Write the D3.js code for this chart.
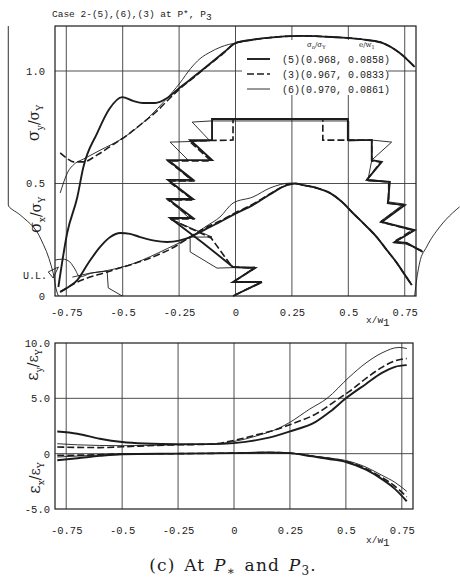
<!DOCTYPE html>
<html lang="en">
<head>
<meta charset="UTF-8">
<title>Case 2 stress and strain distributions at P* and P3</title>
<script src="https://d3js.org/d3.v7.min.js"></script>
<style>
  body { margin: 0; background: #fff; }
  svg { display: block; }
  .mono { font-family: "Liberation Mono", "DejaVu Sans Mono", monospace; fill: #1c1c1c; }
  .sym { font-family: "DejaVu Serif", "Liberation Serif", serif; fill: #1c1c1c; }
</style>
</head>
<body>
<script>
// ---- data (x/w1 along the section) ----
const xTicks = [-0.75, -0.5, -0.25, 0, 0.25, 0.5, 0.75];
const xTickLabels = ["-0.75", "-0.5", "-0.25", "0", "0.25", "0.5", "0.75"];
const sigmaTicks = [0, 0.5, 1.0];
const sigmaTickLabels = ["0", "0.5", "1.0"];
const ulLevel = 0.09;
const epsTicks = [-5, 0, 5, 10];
const epsTickLabels = ["-5.0", "0", "5.0", "10.0"];

const cases = ["5", "3", "6"];
const caseLabels = ["(5)(0.968, 0.0858)", "(3)(0.967, 0.0833)", "(6)(0.970, 0.0861)"];

// sigma_y / sigma_Y
const sigmaYRight = [[0.07,1.138],[0.139,1.147],[0.285,1.156],[0.431,1.151],[0.582,1.138],[0.653,1.124],[0.728,1.08],[0.794,1.018]];
const sigmaY5 = [[-0.785,0.04],[-0.746,0.28],[-0.701,0.44],[-0.675,0.57],[-0.613,0.724],[-0.56,0.83],[-0.502,0.884],[-0.454,0.867],[-0.41,0.858],[-0.356,0.858],[-0.303,0.88],[-0.246,0.927],[-0.2,0.962],[-0.157,0.997],[-0.1,1.043],[-0.05,1.084],[0,1.124]];
const sigmaY3 = [[-0.777,0.636],[-0.745,0.61],[-0.719,0.596],[-0.675,0.596],[-0.613,0.627],[-0.546,0.671],[-0.48,0.715],[-0.423,0.76],[-0.35,0.82],[-0.3,0.87],[-0.246,0.922],[-0.19,0.967],[-0.126,1.02],[-0.06,1.073],[0,1.124]];
const sigmaY6 = [[-0.777,0.458],[-0.745,0.547],[-0.71,0.59],[-0.675,0.608],[-0.6,0.648],[-0.502,0.7],[-0.44,0.745],[-0.378,0.8],[-0.31,0.872],[-0.246,0.947],[-0.2,1.01],[-0.157,1.055],[-0.11,1.085],[-0.069,1.105],[-0.03,1.118],[0,1.124]];

// sigma_x / sigma_Y
const sigmaXRight = [[0.299,0.493],[0.36,0.48],[0.418,0.458],[0.47,0.42],[0.52,0.369],[0.575,0.315],[0.626,0.262],[0.67,0.205],[0.715,0.147],[0.75,0.095],[0.781,0.049]];
const sigmaX5 = [[-0.777,0.018],[-0.74,0.04],[-0.701,0.071],[-0.65,0.15],[-0.6,0.218],[-0.555,0.262],[-0.511,0.28],[-0.467,0.276],[-0.423,0.262],[-0.36,0.246],[-0.303,0.24],[-0.25,0.246],[-0.201,0.262],[-0.13,0.298],[-0.069,0.329],[0,0.366],[0.077,0.404],[0.15,0.45],[0.228,0.493],[0.265,0.5]];
const sigmaX3 = [[-0.777,0.018],[-0.701,0.062],[-0.569,0.107],[-0.378,0.169],[-0.28,0.213],[-0.201,0.262],[-0.13,0.305],[-0.069,0.333],[0,0.37],[0.077,0.408],[0.15,0.452],[0.228,0.494],[0.265,0.5]];
const sigmaX6 = [[-0.799,0.16],[-0.765,0.164],[-0.734,0.151],[-0.712,0.12],[-0.69,0.085],[-0.644,0.1],[-0.569,0.113],[-0.45,0.145],[-0.378,0.175],[-0.3,0.212],[-0.201,0.262],[-0.13,0.31],[-0.069,0.351],[-0.011,0.413],[0.077,0.44],[0.153,0.48],[0.246,0.502]];

// plastic zone boundaries (zigzag)
const zone5 = [[0.830,0.196],[0.759,0.236],[0.706,0.240],[0.794,0.293],[0.648,0.329],[0.750,0.404],[0.675,0.413],[0.684,0.507],[0.582,0.516],[0.648,0.596],[0.604,0.604],[0.604,0.693],[0.498,0.693],[0.498,0.787],[-0.104,0.787],[-0.104,0.693],[-0.201,0.693],[-0.104,0.604],[-0.299,0.604],[-0.188,0.516],[-0.299,0.516],[-0.188,0.431],[-0.299,0.431],[-0.188,0.347],[-0.290,0.347],[-0.144,0.236],[-0.011,0.129],[0.086,0.124],[-0.011,0.062],[0.117,0.062],[-0.011,0]];
const zone3 = [[0.816,0.204],[0.754,0.236],[0.701,0.240],[0.785,0.293],[0.644,0.329],[0.746,0.404],[0.679,0.413],[0.679,0.507],[0.582,0.516],[0.644,0.596],[0.604,0.600],[0.604,0.693],[0.387,0.693],[0.387,0.787],[-0.011,0.787],[-0.011,0.693],[-0.206,0.689],[-0.108,0.600],[-0.299,0.600],[-0.188,0.511],[-0.299,0.511],[-0.188,0.427],[-0.299,0.427],[-0.188,0.342],[-0.290,0.342],[-0.108,0.258],[-0.015,0.129],[0.086,0.124],[-0.011,0.062],[0.117,0.062],[-0.011,0]];
const zone6 = [[0.825,0.204],[0.754,0.231],[0.701,0.236],[0.790,0.289],[0.644,0.333],[0.746,0.409],[0.679,0.418],[0.679,0.507],[0.586,0.511],[0.604,0.604],[0.692,0.684],[0.604,0.693],[0.502,0.689],[0.502,0.778],[-0.108,0.778],[-0.192,0.773],[-0.113,0.689],[-0.290,0.684],[-0.210,0.604],[-0.294,0.600],[-0.192,0.511],[-0.294,0.511],[-0.192,0.427],[-0.294,0.427],[-0.206,0.347],[-0.290,0.342],[-0.104,0.262],[-0.201,0.262],[-0.201,0.196],[-0.082,0.124],[0.086,0.129],[-0.011,0.062],[0.117,0.062],[-0.011,0]];
const meshLine = [[-0.723,0.084],[-0.644,0.102],[-0.569,0.111],[-0.564,0.036],[-0.502,0]];
const ulMark = [[-0.83,0.107],[-0.785,0.129],[-0.808,0.08],[-0.83,0.107]];

// hole outlines either side
const leftOutline = [[-1.007,1.2],[-1.007,0.405],[-0.954,0.36],[-0.896,0.307],[-0.852,0.23],[-0.808,0.102],[-0.79,0.013],[-0.785,0]];
const rightOutline = [[0.794,0],[0.797,0.027],[0.816,0.147],[0.847,0.218],[0.905,0.307],[0.962,0.369],[0.993,0.396]];

// strains
const epsY5 = [[-0.79,2.0],[-0.7,1.8],[-0.6,1.35],[-0.5,1.05],[-0.4,0.92],[-0.25,0.86],[-0.1,0.86],[0,0.95],[0.145,1.4],[0.247,2.0],[0.367,2.9],[0.43,3.8],[0.5,5.0],[0.59,6.3],[0.661,7.3],[0.72,7.85],[0.772,8.0]];
const epsY3 = [[-0.79,0.6],[-0.6,0.55],[-0.5,0.62],[-0.3,0.78],[-0.1,0.86],[0,1.2],[0.1,1.7],[0.2,2.25],[0.247,2.6],[0.367,3.6],[0.47,5.0],[0.514,5.6],[0.59,6.8],[0.661,7.8],[0.72,8.4],[0.772,8.6]];
const epsY6 = [[-0.79,0.9],[-0.7,0.8],[-0.5,0.72],[-0.3,0.78],[-0.1,0.86],[0,1.1],[0.1,1.6],[0.2,2.3],[0.247,2.8],[0.336,4.0],[0.416,5.0],[0.514,6.9],[0.59,8.2],[0.661,9.1],[0.737,9.6],[0.772,9.5]];
const epsX5 = [[-0.79,-0.6],[-0.7,-0.42],[-0.6,-0.2],[-0.5,-0.05],[-0.25,0],[0,0.05],[0.15,0.1],[0.25,0.05],[0.35,-0.25],[0.43,-0.5],[0.5,-0.75],[0.59,-1.45],[0.661,-2.3],[0.72,-3.2],[0.772,-4.3]];
const epsX3 = [[-0.79,-0.15],[-0.6,-0.1],[-0.5,-0.02],[-0.25,0],[0,0.05],[0.15,0.1],[0.25,0.05],[0.35,-0.22],[0.43,-0.45],[0.5,-0.7],[0.59,-1.35],[0.661,-2.15],[0.72,-2.95],[0.772,-3.9]];
const epsX6 = [[-0.79,-0.3],[-0.7,-0.22],[-0.6,-0.12],[-0.5,-0.03],[-0.25,0],[0,0.05],[0.15,0.1],[0.25,0.05],[0.35,-0.2],[0.43,-0.4],[0.5,-0.62],[0.59,-1.22],[0.661,-1.95],[0.72,-2.6],[0.772,-3.4]];

// ---- drawing ----
const width = 460, height = 581;
const ink = "#1c1c1c";
const lineStyle = {
  "5": {w: 1.9, dash: null},
  "3": {w: 1.6, dash: "7,3"},
  "6": {w: 0.9, dash: null}
};

const svg = d3.select("body").append("svg")
  .attr("width", width)
  .attr("height", height);
svg.append("rect").attr("width", width).attr("height", height).attr("fill", "#fff");

const xT = d3.scaleLinear().domain([-0.8, 0.8]).range([55, 416]);
const yT = d3.scaleLinear().domain([0, 1.2]).range([296, 26]);
const xB = d3.scaleLinear().domain([-0.8, 0.8]).range([55, 413]);
const yB = d3.scaleLinear().domain([-5, 10]).range([509, 343]);

function grid(g, x, y, xs, ys, y0, y1, x0, x1) {
  g.selectAll(".gv").data(xs).join("line")
    .attr("x1", d => x(d)).attr("x2", d => x(d))
    .attr("y1", y(y1)).attr("y2", y(y0))
    .attr("stroke", "#3a3a3a").attr("stroke-width", 0.9);
  g.selectAll(".gh").data(ys).join("line")
    .attr("x1", x(x0)).attr("x2", x(x1))
    .attr("y1", d => y(d)).attr("y2", d => y(d))
    .attr("stroke", "#3a3a3a").attr("stroke-width", 0.9);
  g.append("rect")
    .attr("x", x(x0)).attr("y", y(y1))
    .attr("width", x(x1) - x(x0)).attr("height", y(y0) - y(y1))
    .attr("fill", "none").attr("stroke", ink).attr("stroke-width", 1.2);
}

function plot(g, pts, x, y, key, curve) {
  const s = lineStyle[key];
  g.append("path")
    .datum(pts)
    .attr("d", d3.line().x(d => x(d[0])).y(d => y(d[1])).curve(curve || d3.curveMonotoneX))
    .attr("fill", "none")
    .attr("stroke", ink)
    .attr("stroke-width", s.w)
    .attr("stroke-dasharray", s.dash)
    .attr("stroke-linejoin", "miter");
}

// top panel
const topPanel = svg.append("g");
grid(topPanel.append("g"), xT, yT, xTicks, [0.5, 1.0], 0, 1.2, -0.8, 0.8);

// legend background hides the grid underneath (curves still pass over it)
topPanel.append("rect").attr("x", 242).attr("y", 40).attr("width", 146).attr("height", 55).attr("fill", "#fff");

plot(topPanel, leftOutline, xT, yT, "6", d3.curveMonotoneY);
plot(topPanel, rightOutline, xT, yT, "6", d3.curveMonotoneX);

plot(topPanel, zone6, xT, yT, "6", d3.curveLinear);
plot(topPanel, zone5, xT, yT, "5", d3.curveLinear);
plot(topPanel, zone3, xT, yT, "3", d3.curveLinear);
plot(topPanel, meshLine, xT, yT, "6", d3.curveLinear);
plot(topPanel, ulMark, xT, yT, "6", d3.curveLinear);

plot(topPanel, sigmaY5.concat(sigmaYRight), xT, yT, "5");
plot(topPanel, sigmaY3.concat(sigmaYRight), xT, yT, "3");
plot(topPanel, sigmaY6.concat(sigmaYRight), xT, yT, "6");
plot(topPanel, sigmaX5.concat(sigmaXRight), xT, yT, "5");
plot(topPanel, sigmaX3.concat(sigmaXRight), xT, yT, "3");
plot(topPanel, sigmaX6.concat(sigmaXRight), xT, yT, "6");

// bottom panel
const botPanel = svg.append("g");
grid(botPanel.append("g"), xB, yB, xTicks, [0, 5], -5, 10, -0.8, 0.8);
plot(botPanel, epsY5, xB, yB, "5");
plot(botPanel, epsY3, xB, yB, "3");
plot(botPanel, epsY6, xB, yB, "6");
plot(botPanel, epsX5, xB, yB, "5");
plot(botPanel, epsX3, xB, yB, "3");
plot(botPanel, epsX6, xB, yB, "6");

// axes
function styleAxis(g, size) {
  g.select(".domain").remove();
  g.selectAll("text").attr("class", "mono").attr("font-size", size).attr("fill", ink);
}
svg.append("g").attr("transform", `translate(0,${yT(0)})`)
  .call(d3.axisBottom(xT).tickValues(xTicks).tickFormat((d, i) => xTickLabels[i]).tickSize(0).tickPadding(13))
  .call(g => styleAxis(g, 10.5));
svg.append("g").attr("transform", `translate(0,${yB(-5)})`)
  .call(d3.axisBottom(xB).tickValues(xTicks).tickFormat((d, i) => xTickLabels[i]).tickSize(0).tickPadding(18))
  .call(g => styleAxis(g, 10.5));
svg.append("g").attr("transform", `translate(${xT(-0.8)},0)`)
  .call(d3.axisLeft(yT).tickValues(sigmaTicks).tickFormat((d, i) => sigmaTickLabels[i]).tickSize(0).tickPadding(10))
  .call(g => styleAxis(g, 10.5));
svg.append("g").attr("transform", `translate(${xB(-0.8)},0)`)
  .call(d3.axisLeft(yB).tickValues(epsTicks).tickFormat((d, i) => epsTickLabels[i]).tickSize(0).tickPadding(5))
  .call(g => styleAxis(g, 10.5));

svg.append("text").attr("class", "mono").attr("font-size", 10)
  .attr("x", 23).attr("y", yT(ulLevel)).attr("dy", "0.35em").text("U.L.");

// x/w1 labels
[yT(0) + 27, yB(-5) + 34].forEach(yy => {
  const t = svg.append("text").attr("class", "mono").attr("font-size", 9.5)
    .attr("x", 366).attr("y", yy);
  t.append("tspan").text("x/w");
  t.append("tspan").attr("dy", 3).attr("font-size", 11).text("1");
});

// rotated ratio labels
function ratio(x, y, sym, a, b) {
  const t = svg.append("text").attr("class", "sym")
    .attr("transform", `translate(${x},${y}) rotate(-90)`)
    .attr("text-anchor", "middle").attr("font-size", 16);
  t.append("tspan").text(sym);
  t.append("tspan").attr("dy", 4).attr("font-size", 9).text(a);
  t.append("tspan").attr("dy", -4).attr("font-size", 14).text("/" + sym);
  t.append("tspan").attr("dy", 4).attr("font-size", 9).text(b);
}
ratio(39, 123, "σ", "y", "Y");
ratio(41, 215, "σ", "x", "Y");
ratio(38, 365, "ε", "y", "Y");
ratio(40, 478, "ε", "x", "Y");

// title
const title = svg.append("text").attr("class", "mono").attr("font-size", 9.5).attr("x", 52).attr("y", 17);
title.append("tspan").text("Case 2-(5),(6),(3) at P*, P");
title.append("tspan").attr("dy", 3).text("3");

// legend
const leg = svg.append("g");
const head = leg.append("text").attr("class", "sym").attr("font-size", 7).attr("x", 307).attr("y", 47);
head.append("tspan").text("σ");
head.append("tspan").attr("dy", 2).attr("font-size", 5).text("n");
head.append("tspan").attr("dy", -2).text("/σ");
head.append("tspan").attr("dy", 2).attr("font-size", 5).text("Y");
const head2 = leg.append("text").attr("class", "sym").attr("font-size", 7).attr("x", 359).attr("y", 47);
head2.append("tspan").text("e/w");
head2.append("tspan").attr("dy", 2).attr("font-size", 5).text("1");

cases.forEach((c, i) => {
  const yy = 59 + i * 15;
  const s = lineStyle[c];
  leg.append("line").attr("x1", 247).attr("x2", 270).attr("y1", yy).attr("y2", yy)
    .attr("stroke", ink).attr("stroke-width", s.w).attr("stroke-dasharray", s.dash);
  leg.append("text").attr("class", "mono").attr("font-size", 10)
    .attr("x", 282).attr("y", yy).attr("dy", "0.35em").text(caseLabels[i]);
});

// caption
const cap = svg.append("text")
  .attr("x", 233).attr("y", 571).attr("text-anchor", "middle")
  .attr("font-family", "'DejaVu Serif', 'Liberation Serif', serif").attr("font-size", 17)
  .attr("letter-spacing", 1.2).attr("word-spacing", 2).attr("fill", ink);
cap.append("tspan").text("(c) At ");
cap.append("tspan").attr("font-style", "italic").text("P");
cap.append("tspan").attr("dy", 4).attr("font-size", 12).text("∗");
cap.append("tspan").attr("dy", -4).text(" and ");
cap.append("tspan").attr("font-style", "italic").text("P");
cap.append("tspan").attr("dy", 4).attr("font-size", 12).text("3");
cap.append("tspan").attr("dy", -4).text(".");
</script>
</body>
</html>
